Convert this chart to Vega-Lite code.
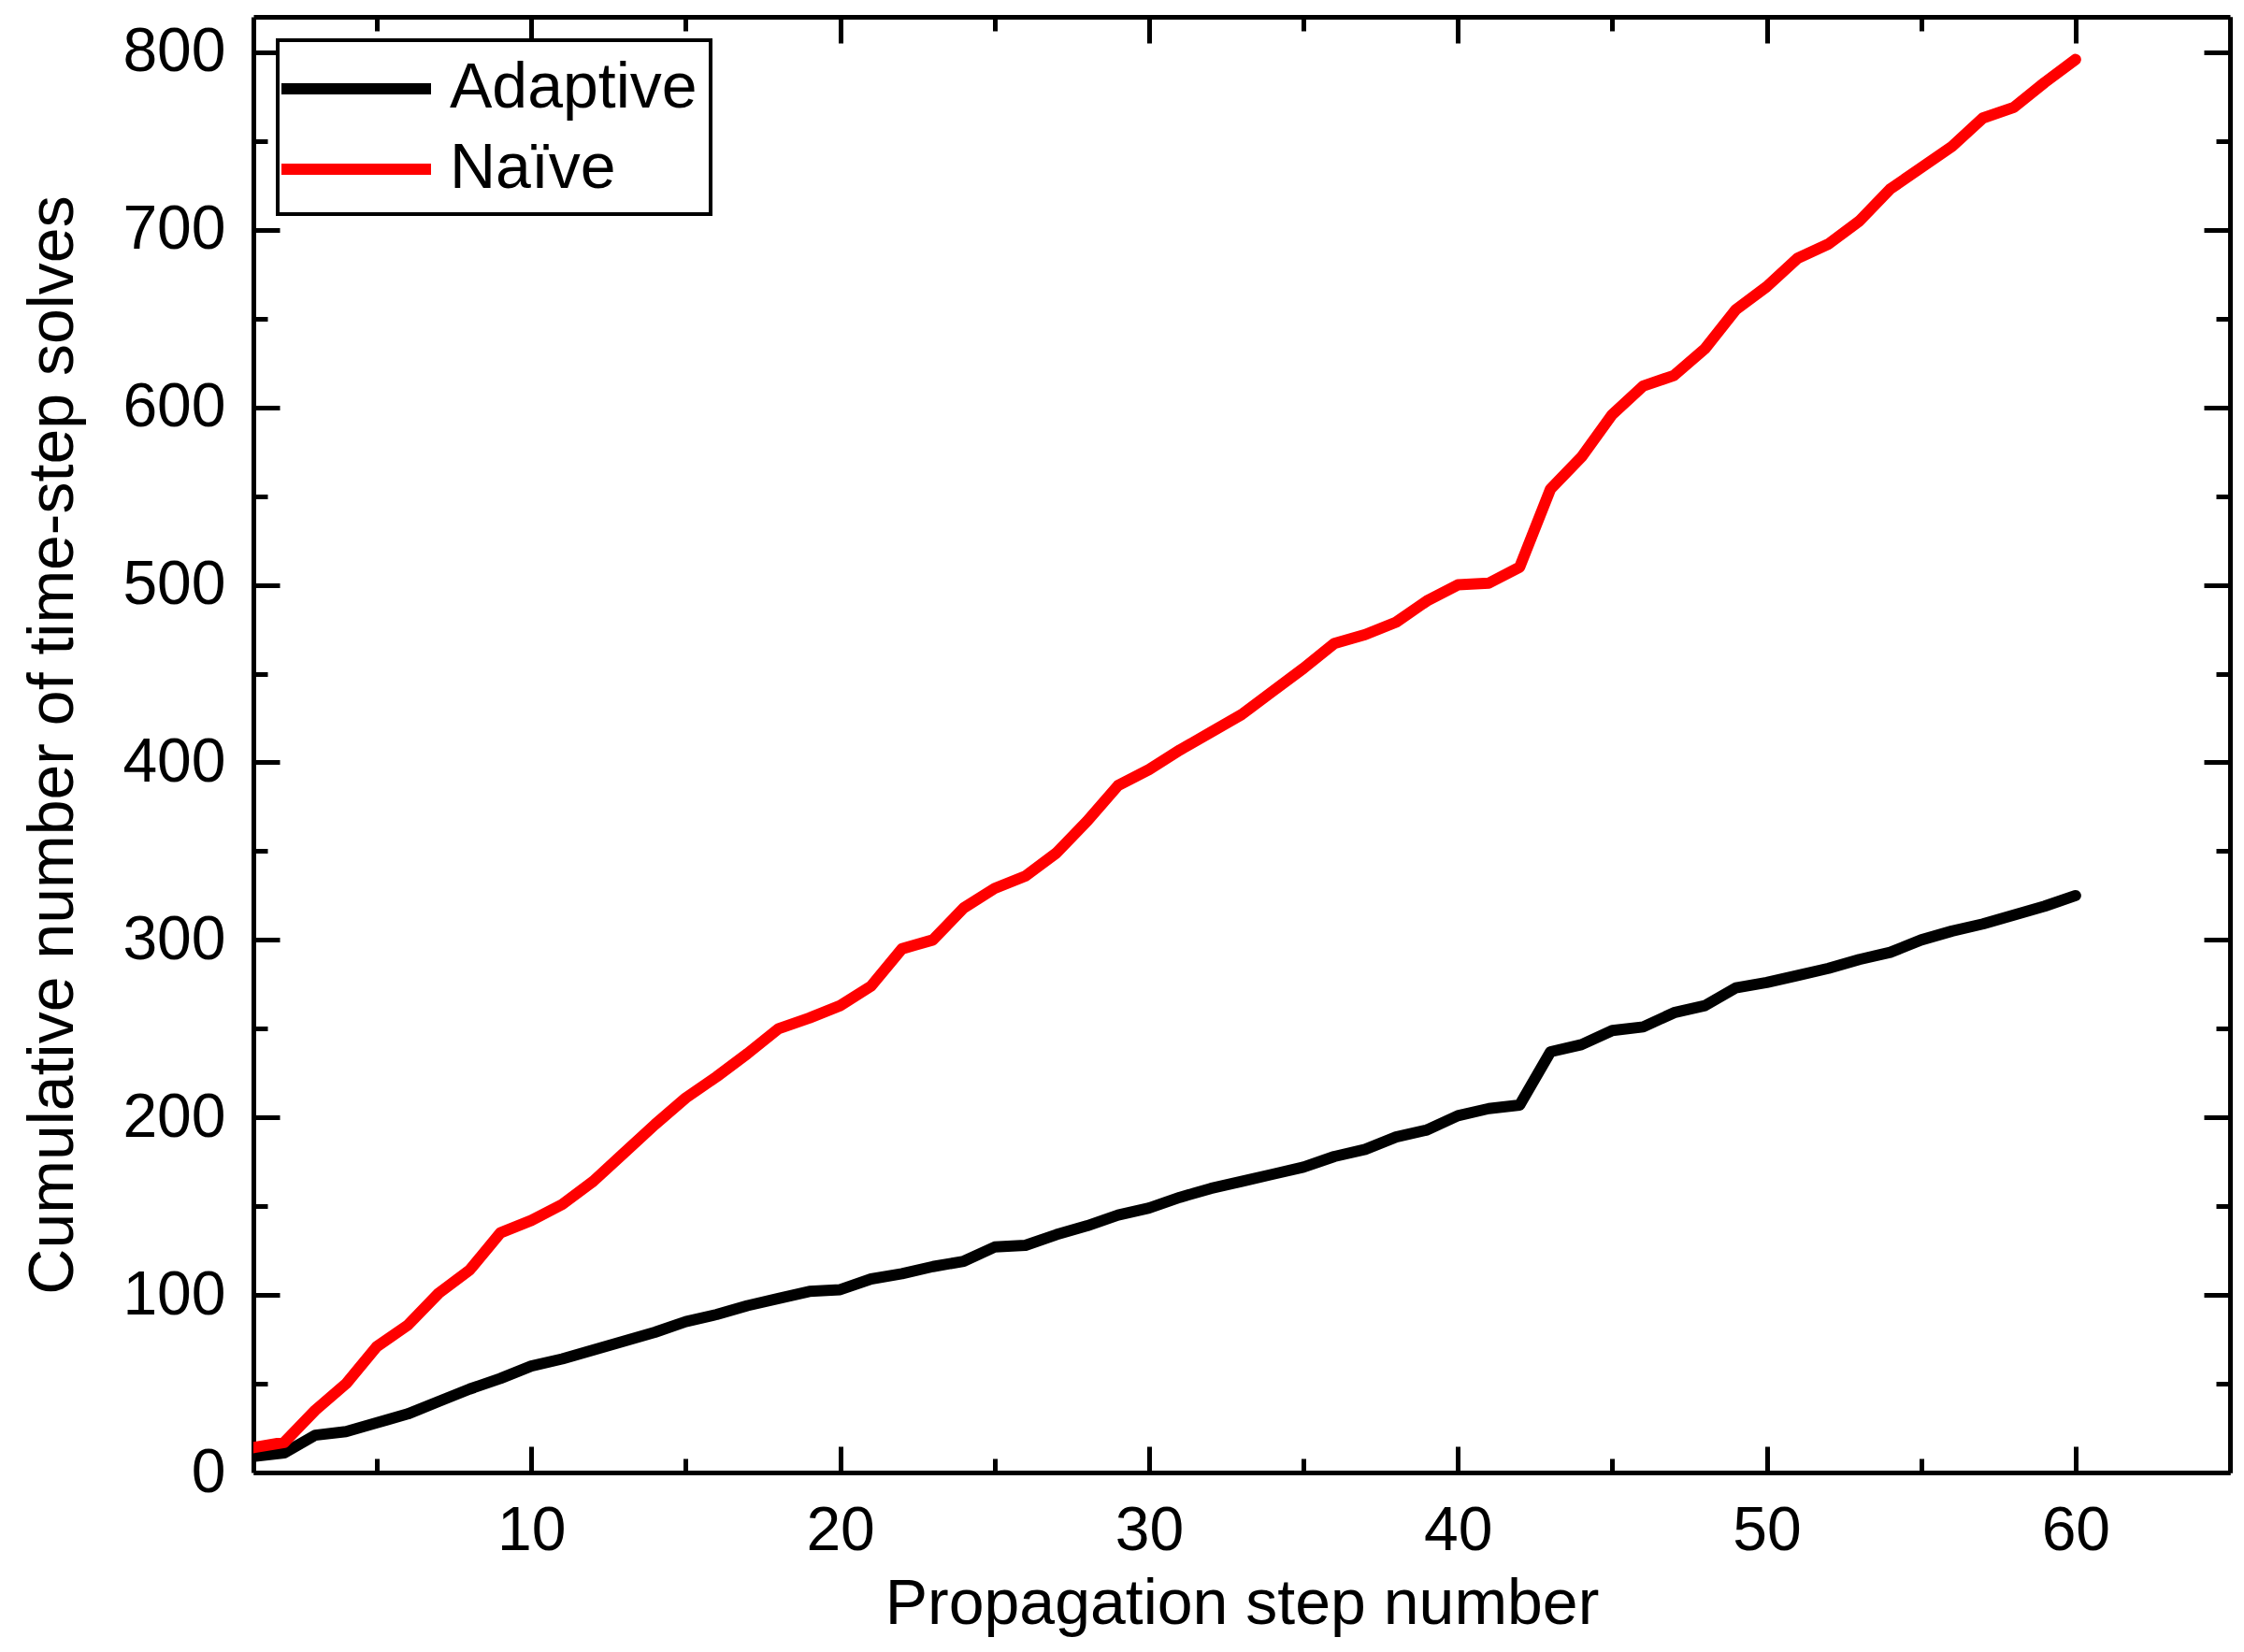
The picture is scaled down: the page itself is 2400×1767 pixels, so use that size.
{
  "$schema": "https://vega.github.io/schema/vega-lite/v6.json",
  "width": 2114,
  "height": 1557,
  "autosize": "none",
  "padding": {"left": 271, "top": 18, "right": 15, "bottom": 192},
  "background": "white",
  "config": {
    "view": {"stroke": null},
    "font": "Liberation Sans",
    "legend": {"strokeWidth": 4},
    "axis": {
      "domainColor": "black",
      "domainWidth": 5,
      "tickColor": "black",
      "tickWidth": 5,
      "labelColor": "black",
      "labelFont": "Liberation Sans",
      "labelFontSize": 66,
      "titleFont": "Liberation Sans",
      "titleFontSize": 68,
      "titleFontWeight": "normal",
      "titleColor": "black",
      "grid": false
    }
  },
  "data": {
    "values": [
      {"step": 1, "method": "Adaptive", "solves": 9}, {"step": 2, "method": "Adaptive", "solves": 11},
      {"step": 3, "method": "Adaptive", "solves": 21}, {"step": 4, "method": "Adaptive", "solves": 23},
      {"step": 5, "method": "Adaptive", "solves": 28}, {"step": 6, "method": "Adaptive", "solves": 33},
      {"step": 7, "method": "Adaptive", "solves": 40}, {"step": 8, "method": "Adaptive", "solves": 47},
      {"step": 9, "method": "Adaptive", "solves": 53}, {"step": 10, "method": "Adaptive", "solves": 60},
      {"step": 11, "method": "Adaptive", "solves": 64}, {"step": 12, "method": "Adaptive", "solves": 69},
      {"step": 13, "method": "Adaptive", "solves": 74}, {"step": 14, "method": "Adaptive", "solves": 79},
      {"step": 15, "method": "Adaptive", "solves": 85}, {"step": 16, "method": "Adaptive", "solves": 89},
      {"step": 17, "method": "Adaptive", "solves": 94}, {"step": 18, "method": "Adaptive", "solves": 98},
      {"step": 19, "method": "Adaptive", "solves": 102}, {"step": 20, "method": "Adaptive", "solves": 103},
      {"step": 21, "method": "Adaptive", "solves": 109}, {"step": 22, "method": "Adaptive", "solves": 112},
      {"step": 23, "method": "Adaptive", "solves": 116}, {"step": 24, "method": "Adaptive", "solves": 119},
      {"step": 25, "method": "Adaptive", "solves": 127}, {"step": 26, "method": "Adaptive", "solves": 128},
      {"step": 27, "method": "Adaptive", "solves": 134}, {"step": 28, "method": "Adaptive", "solves": 139},
      {"step": 29, "method": "Adaptive", "solves": 145}, {"step": 30, "method": "Adaptive", "solves": 149},
      {"step": 31, "method": "Adaptive", "solves": 155}, {"step": 32, "method": "Adaptive", "solves": 160},
      {"step": 33, "method": "Adaptive", "solves": 164}, {"step": 34, "method": "Adaptive", "solves": 168},
      {"step": 35, "method": "Adaptive", "solves": 172}, {"step": 36, "method": "Adaptive", "solves": 178},
      {"step": 37, "method": "Adaptive", "solves": 182}, {"step": 38, "method": "Adaptive", "solves": 189},
      {"step": 39, "method": "Adaptive", "solves": 193}, {"step": 40, "method": "Adaptive", "solves": 201},
      {"step": 41, "method": "Adaptive", "solves": 205}, {"step": 42, "method": "Adaptive", "solves": 207},
      {"step": 43, "method": "Adaptive", "solves": 237}, {"step": 44, "method": "Adaptive", "solves": 241},
      {"step": 45, "method": "Adaptive", "solves": 249}, {"step": 46, "method": "Adaptive", "solves": 251},
      {"step": 47, "method": "Adaptive", "solves": 259}, {"step": 48, "method": "Adaptive", "solves": 263},
      {"step": 49, "method": "Adaptive", "solves": 273}, {"step": 50, "method": "Adaptive", "solves": 276},
      {"step": 51, "method": "Adaptive", "solves": 280}, {"step": 52, "method": "Adaptive", "solves": 284},
      {"step": 53, "method": "Adaptive", "solves": 289}, {"step": 54, "method": "Adaptive", "solves": 293},
      {"step": 55, "method": "Adaptive", "solves": 300}, {"step": 56, "method": "Adaptive", "solves": 305},
      {"step": 57, "method": "Adaptive", "solves": 309}, {"step": 58, "method": "Adaptive", "solves": 314},
      {"step": 59, "method": "Adaptive", "solves": 319}, {"step": 60, "method": "Adaptive", "solves": 325},
      {"step": 1, "method": "Naïve", "solves": 14}, {"step": 2, "method": "Naïve", "solves": 17},
      {"step": 3, "method": "Naïve", "solves": 35}, {"step": 4, "method": "Naïve", "solves": 50},
      {"step": 5, "method": "Naïve", "solves": 71}, {"step": 6, "method": "Naïve", "solves": 83},
      {"step": 7, "method": "Naïve", "solves": 101}, {"step": 8, "method": "Naïve", "solves": 114},
      {"step": 9, "method": "Naïve", "solves": 135}, {"step": 10, "method": "Naïve", "solves": 142},
      {"step": 11, "method": "Naïve", "solves": 151}, {"step": 12, "method": "Naïve", "solves": 164},
      {"step": 13, "method": "Naïve", "solves": 180}, {"step": 14, "method": "Naïve", "solves": 196},
      {"step": 15, "method": "Naïve", "solves": 211}, {"step": 16, "method": "Naïve", "solves": 223},
      {"step": 17, "method": "Naïve", "solves": 236}, {"step": 18, "method": "Naïve", "solves": 250},
      {"step": 19, "method": "Naïve", "solves": 256}, {"step": 20, "method": "Naïve", "solves": 263},
      {"step": 21, "method": "Naïve", "solves": 274}, {"step": 22, "method": "Naïve", "solves": 295},
      {"step": 23, "method": "Naïve", "solves": 300}, {"step": 24, "method": "Naïve", "solves": 318},
      {"step": 25, "method": "Naïve", "solves": 329}, {"step": 26, "method": "Naïve", "solves": 336},
      {"step": 27, "method": "Naïve", "solves": 349}, {"step": 28, "method": "Naïve", "solves": 367},
      {"step": 29, "method": "Naïve", "solves": 387}, {"step": 30, "method": "Naïve", "solves": 396},
      {"step": 31, "method": "Naïve", "solves": 407}, {"step": 32, "method": "Naïve", "solves": 417},
      {"step": 33, "method": "Naïve", "solves": 427}, {"step": 34, "method": "Naïve", "solves": 440},
      {"step": 35, "method": "Naïve", "solves": 453}, {"step": 36, "method": "Naïve", "solves": 467},
      {"step": 37, "method": "Naïve", "solves": 472}, {"step": 38, "method": "Naïve", "solves": 479},
      {"step": 39, "method": "Naïve", "solves": 491}, {"step": 40, "method": "Naïve", "solves": 500},
      {"step": 41, "method": "Naïve", "solves": 501}, {"step": 42, "method": "Naïve", "solves": 510},
      {"step": 43, "method": "Naïve", "solves": 554}, {"step": 44, "method": "Naïve", "solves": 572},
      {"step": 45, "method": "Naïve", "solves": 596}, {"step": 46, "method": "Naïve", "solves": 612},
      {"step": 47, "method": "Naïve", "solves": 618}, {"step": 48, "method": "Naïve", "solves": 633},
      {"step": 49, "method": "Naïve", "solves": 655}, {"step": 50, "method": "Naïve", "solves": 668},
      {"step": 51, "method": "Naïve", "solves": 684}, {"step": 52, "method": "Naïve", "solves": 692},
      {"step": 53, "method": "Naïve", "solves": 705}, {"step": 54, "method": "Naïve", "solves": 723},
      {"step": 55, "method": "Naïve", "solves": 735}, {"step": 56, "method": "Naïve", "solves": 747},
      {"step": 57, "method": "Naïve", "solves": 763}, {"step": 58, "method": "Naïve", "solves": 769},
      {"step": 59, "method": "Naïve", "solves": 783}, {"step": 60, "method": "Naïve", "solves": 796}
    ]
  },
  "layer": [
    {
      "mark": {"type": "line", "strokeWidth": 12, "strokeCap": "round", "strokeJoin": "round", "clip": true},
      "encoding": {
        "x": {
          "field": "step", "type": "quantitative",
          "scale": {"domain": [1, 65], "nice": false, "zero": false},
          "axis": {
            "orient": "bottom", "values": [10, 20, 30, 40, 50, 60], "tickSize": -28,
            "labelPadding": 58, "title": "Propagation step number", "titlePadding": 12
          }
        },
        "y": {
          "field": "solves", "type": "quantitative",
          "scale": {"domain": [0, 820], "nice": false},
          "axis": {
            "orient": "left", "values": [0, 100, 200, 300, 400, 500, 600, 700, 800], "tickSize": -28,
            "labelPadding": 58, "title": "Cumulative number of time-step solves", "titlePadding": 39
          }
        },
        "color": {
          "field": "method", "type": "nominal",
          "scale": {"domain": ["Adaptive", "Naïve"], "range": ["#000000", "#ff0000"]},
          "legend": {
            "title": null, "orient": "none", "legendX": 26, "legendY": 25,
            "symbolType": "M-2.5,0H2.5", "symbolSize": 4096, "symbolStrokeWidth": 12,
            "symbolOffset": 32, "labelLimit": 600,
            "labelFont": "Liberation Sans", "labelFontSize": 68, "labelColor": "black", "labelOffset": 62,
            "rowPadding": 14, "padding": 14, "strokeColor": "black", "fillColor": "white"
          }
        }
      }
    },
    {
      "mark": {"type": "line", "opacity": 0},
      "encoding": {
        "x": {"field": "step", "type": "quantitative",
          "axis": {"orient": "top", "values": [10, 20, 30, 40, 50, 60], "tickSize": -28, "labels": false, "title": null}},
        "y": {"field": "solves", "type": "quantitative",
          "axis": {"orient": "right", "values": [0, 100, 200, 300, 400, 500, 600, 700, 800], "tickSize": -28, "labels": false, "title": null}}
      }
    },
    {
      "mark": {"type": "line", "opacity": 0},
      "encoding": {
        "x": {"field": "step", "type": "quantitative",
          "axis": {"orient": "bottom", "values": [5, 15, 25, 35, 45, 55, 65], "tickSize": -15, "labels": false, "domain": false, "title": null}},
        "y": {"field": "solves", "type": "quantitative",
          "axis": {"orient": "left", "values": [50, 150, 250, 350, 450, 550, 650, 750], "tickSize": -15, "labels": false, "domain": false, "title": null}}
      }
    },
    {
      "mark": {"type": "line", "opacity": 0},
      "encoding": {
        "x": {"field": "step", "type": "quantitative",
          "axis": {"orient": "top", "values": [5, 15, 25, 35, 45, 55, 65], "tickSize": -15, "labels": false, "domain": false, "title": null}},
        "y": {"field": "solves", "type": "quantitative",
          "axis": {"orient": "right", "values": [50, 150, 250, 350, 450, 550, 650, 750], "tickSize": -15, "labels": false, "domain": false, "title": null}}
      }
    }
  ],
  "resolve": {"axis": {"x": "independent", "y": "independent"}}
}
